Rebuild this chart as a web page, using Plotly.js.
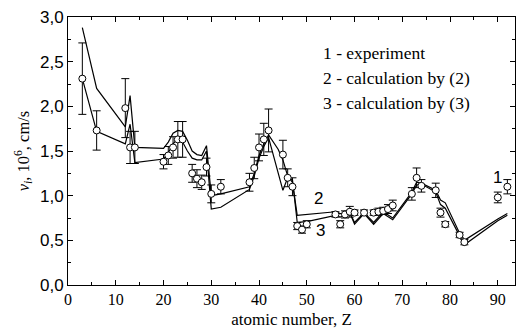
<!DOCTYPE html>
<html><head><meta charset="utf-8">
<script src="https://cdn.plot.ly/plotly-3.0.1.min.js"></script>
<style>body{margin:0;padding:0;background:#fff}#chart{width:518px;height:335px}</style>
</head><body><div id="chart"></div>
<script>
// Experiment (series 1)
const expZ = [3,6,12,13,14,20,21,22,23,24,26,27,28,29,30,32,38,39,40,41,42,45,46,47,48,49,50,56,57,58,59,60,62,64,65,66,67,68,72,73,74,77,78,79,82,83,90,92];
const expV = [2.31,1.73,1.98,1.54,1.54,1.38,1.45,1.54,1.63,1.63,1.25,1.19,1.15,1.32,1.02,1.10,1.15,1.31,1.54,1.63,1.73,1.46,1.20,1.10,0.66,0.62,0.68,0.79,0.68,0.79,0.82,0.81,0.81,0.81,0.82,0.83,0.85,0.89,1.02,1.20,1.11,1.06,0.81,0.68,0.56,0.48,0.98,1.10];
const expErr = [0.40,0.22,0.33,0.18,0.18,0.08,0.10,0.12,0.20,0.20,0.10,0.10,0.08,0.10,0.10,0.08,0.10,0.12,0.15,0.18,0.24,0.16,0.10,0.10,0.04,0.04,0.04,0.03,0.04,0.04,0.06,0.03,0.03,0.03,0.04,0.04,0.05,0.06,0.07,0.11,0.07,0.08,0.05,0.03,0.03,0.03,0.06,0.08];
// Calculation by (2)
const calc2Z = [3,6,12,13,14,20,21,22,23,24,25,26,27,28,29,30,32,38,39,40,41,42,44,45,46,47,48,50,56,57,58,59,60,62,64,66,68,72,73,74,77,78,79,82,83,90,92];
const calc2V = [2.88,2.20,1.77,2.12,1.54,1.53,1.60,1.70,1.73,1.72,1.62,1.50,1.46,1.45,1.56,1.00,1.02,1.10,1.25,1.45,1.58,1.68,1.52,1.40,1.22,1.15,0.78,0.79,0.82,0.80,0.80,0.81,0.70,0.81,0.70,0.82,0.75,1.04,1.15,1.14,1.06,0.95,0.92,0.58,0.50,0.74,0.80];
// Calculation by (3)
const calc3Z = [3,6,12,13,14,20,21,22,23,24,25,26,27,28,29,30,32,38,39,40,41,42,45,46,47,48,50,56,57,58,59,60,62,64,66,68,72,73,74,77,78,79,82,83,90,92];
const calc3V = [2.31,1.72,1.58,1.80,1.37,1.41,1.48,1.58,1.64,1.60,1.50,1.42,1.40,1.40,1.50,0.85,0.87,1.07,1.22,1.42,1.55,1.65,1.06,1.20,1.18,0.70,0.71,0.78,0.76,0.78,0.81,0.68,0.80,0.68,0.80,0.73,1.02,1.12,1.13,1.04,0.90,0.86,0.55,0.45,0.72,0.78];
const yTicks = [0,0.5,1,1.5,2,2.5,3];
const yTickText = ['0,0','0,5','1,0','1,5','2,0','2,5','3,0'];
const xTicks = [0,10,20,30,40,50,60,70,80,90];

const serif = '"Liberation Serif", "Times New Roman", serif';
const sans = '"Liberation Sans", Arial, sans-serif';

const traces = [
  {x: calc2Z, y: calc2V, mode:'lines', line:{color:'#000', width:1.2}, hoverinfo:'skip'},
  {x: calc3Z, y: calc3V, mode:'lines', line:{color:'#000', width:1.2}, hoverinfo:'skip'},
  {x: expZ, y: expV, mode:'markers',
   marker:{symbol:'circle', size:7, color:'#fff', line:{color:'#000', width:1}},
   error_y:{type:'data', array:expErr, visible:true, color:'#000', thickness:1, width:4}}
];

const layout = {
  width:518, height:335,
  margin:{l:68, r:3, t:17, b:50},
  paper_bgcolor:'#fff', plot_bgcolor:'#fff',
  showlegend:false,
  xaxis:{range:[0,93.6], tickvals:xTicks, ticks:'inside', ticklen:5, tickwidth:1, tickcolor:'#000',
    minor:{dtick:5, tick0:0, ticks:'inside', ticklen:3, tickcolor:'#000'},
    showline:true, linecolor:'#000', linewidth:1, mirror:'ticks', showgrid:false, zeroline:false,
    tickfont:{family:serif, size:16, color:'#000'},
    title:{text:'atomic number, Z', font:{family:serif, size:17, color:'#000'}, standoff:5}},
  yaxis:{range:[0,3], tickvals:yTicks, ticktext:yTickText, ticks:'inside', ticklen:5, tickwidth:1, tickcolor:'#000',
    minor:{dtick:0.25, tick0:0, ticks:'inside', ticklen:3, tickcolor:'#000'},
    showline:true, linecolor:'#000', linewidth:1, mirror:'ticks', showgrid:false, zeroline:false,
    tickfont:{family:sans, size:17, color:'#000'},
    title:{text:'<i>v<sub>i</sub></i>, 10<sup>6</sup>, cm/s', font:{family:serif, size:16.5, color:'#000'}, standoff:6}},
  annotations:[
    {text:'1 - experiment', xref:'paper', yref:'paper', x:0.567, y:0.866, xanchor:'left', yanchor:'middle', showarrow:false, font:{family:serif, size:17.5, color:'#000'}},
    {text:'2 - calculation by (2)', xref:'paper', yref:'paper', x:0.567, y:0.772, xanchor:'left', yanchor:'middle', showarrow:false, font:{family:serif, size:17.5, color:'#000'}},
    {text:'3 - calculation by (3)', xref:'paper', yref:'paper', x:0.567, y:0.679, xanchor:'left', yanchor:'middle', showarrow:false, font:{family:serif, size:17.5, color:'#000'}},
    {text:'1', xref:'x', yref:'y', x:90.0, y:1.2, showarrow:false, font:{family:sans, size:17, color:'#000'}},
    {text:'2', xref:'x', yref:'y', x:52.4, y:0.97, showarrow:false, font:{family:sans, size:17, color:'#000'}},
    {text:'3', xref:'x', yref:'y', x:52.8, y:0.61, showarrow:false, font:{family:sans, size:17, color:'#000'}}
  ]
};
Plotly.newPlot('chart', traces, layout, {staticPlot:true, displayModeBar:false});
</script></body></html>
